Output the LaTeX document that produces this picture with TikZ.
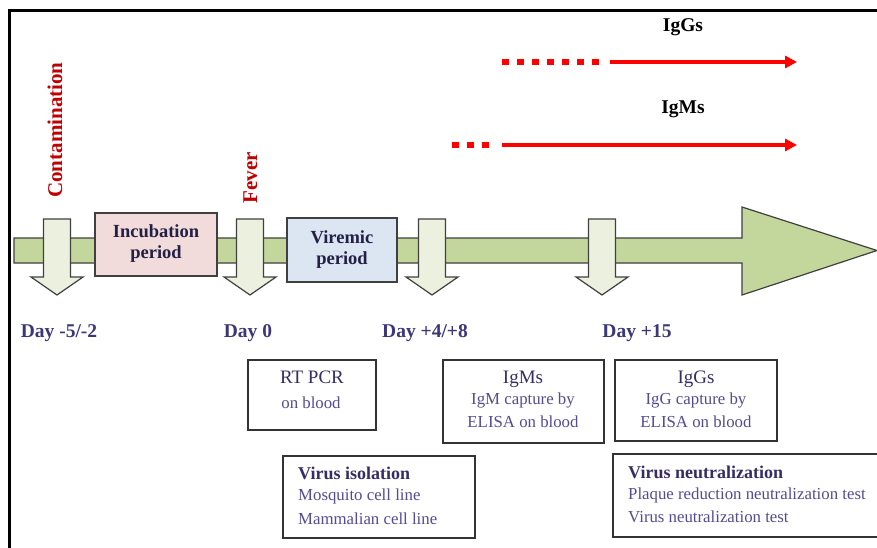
\documentclass[tikz,border=0pt]{standalone}
\usepackage{fontspec}
\setmainfont{Liberation Serif}
\usetikzlibrary{arrows.meta}

\definecolor{barfill}{RGB}{195,214,155}
\definecolor{tickfill}{RGB}{235,241,222}
\definecolor{edgegray}{RGB}{64,64,64}
\definecolor{incfill}{RGB}{242,220,219}
\definecolor{virfill}{RGB}{220,230,242}
\definecolor{eventred}{RGB}{192,0,0}
\definecolor{dayink}{RGB}{60,55,120}
\definecolor{headink}{RGB}{35,32,70}
\definecolor{titleink}{RGB}{55,45,100}
\definecolor{bodyink}{RGB}{85,75,145}

\tikzset{
  outline/.style={draw=edgegray, line width=1.2pt, line join=miter},
  dayarrow/.pic={
    \draw[outline, fill=tickfill] (-13.5,0) -- (13.5,0) -- (13.5,58) -- (26,58)
      -- (0,76) -- (-26,58) -- (-13.5,58) -- cycle;
  },
  phasebox/.style={outline, inner sep=0pt},
  testbox/.style={draw=black!80, line width=1.4pt, fill=white, inner sep=0pt},
  txt/.style={anchor=base, inner sep=0pt},
  eventlabel/.style={txt, rotate=90, text=eventred,
    font=\fontsize{21}{25}\selectfont\bfseries},
  daylabel/.style={txt, text=dayink, font=\fontsize{19.5}{24}\selectfont\bfseries},
  phasetext/.style={txt, text=headink, font=\fontsize{18.5}{22}\selectfont\bfseries},
  igtitle/.style={txt, text=black, font=\fontsize{19.5}{24}\selectfont\bfseries},
  boxtitle/.style={txt, text=titleink, font=\fontsize{19}{23}\selectfont},
  boxhead/.style={txt, text=titleink, font=\fontsize{18}{22}\selectfont\bfseries},
  boxline/.style={txt, text=bodyink, font=\fontsize{16.8}{20}\selectfont},
  dotrun/.style={red, line width=6.5pt, dash pattern=on 7pt off 8pt},
  solidrun/.style={red, line width=3.5pt, -{Triangle[length=12pt,width=12pt]}},
}

\begin{document}
\begin{tikzpicture}[x=1pt,y=-1pt]
\clip (0,0) rectangle (877,548);
\fill[white] (0,0) rectangle (877,548);

% frame (left and top edges)
\draw[line width=3pt, black] (9.5,548) -- (9.5,10.5) -- (877,10.5);

% time axis
\draw[outline, fill=barfill] (14,238) -- (742,238) -- (742,207) -- (877,250.5)
  -- (742,295) -- (742,263) -- (14,263) -- cycle;

% phases on the axis
\node[phasebox, fill=incfill, minimum width=122pt, minimum height=63pt] (incub) at (156,244.5) {};
\node[phasetext] (incubA) at (156,237) {Incubation};
\node[phasetext] (incubB) at (156,258) {period};

\node[phasebox, fill=virfill, minimum width=110pt, minimum height=64pt] (viremic) at (342,250) {};
\node[phasetext] (viremicA) at (342,243) {Viremic};
\node[phasetext] (viremicB) at (342,264) {period};

% day markers
\pic at (57,219) {dayarrow};
\pic at (250,219) {dayarrow};
\pic at (432,219) {dayarrow};
\pic at (602,219) {dayarrow};

\node[eventlabel] (contam) at (62,130) {Contamination};
\node[eventlabel] (fever) at (257,178) {Fever};

\node[daylabel] (dayA) at (59,337) {Day -5/-2};
\node[daylabel] (dayB) at (248,337) {Day 0};
\node[daylabel] (dayC) at (425,337) {Day +4/+8};
\node[daylabel] (dayD) at (637,337) {Day +15};

% antibody kinetics
\node[igtitle] (igg) at (683,32) {IgGs};
\node[igtitle] (igm) at (683,114) {IgMs};

\coordinate (gdotA) at (502,62);
\coordinate (gdotB) at (600,62);
\coordinate (gsolA) at (610,62);
\coordinate (gtip) at (797,62);
\coordinate (mdotA) at (452,145);
\coordinate (mdotB) at (490,145);
\coordinate (msolA) at (502,145);
\coordinate (mtip) at (797,145);

\draw[dotrun] (gdotA) -- (gdotB);
\draw[solidrun] (gsolA) -- (gtip);
\draw[dotrun] (mdotA) -- (mdotB);
\draw[solidrun] (msolA) -- (mtip);

% diagnostic tests
\node[testbox, minimum width=128pt, minimum height=70pt] (rtpcr) at (312,395) {};
\node[boxtitle] (rtpcrA) at (312,383) {RT PCR};
\node[boxline] (rtpcrB) at (311,408) {on blood};

\node[testbox, minimum width=192pt, minimum height=82pt] (isol) at (379,497) {};
\node[boxhead, anchor=base west] (isolA) at (298,479) {Virus isolation};
\node[boxline, anchor=base west] (isolB) at (298,500) {Mosquito cell line};
\node[boxline, anchor=base west] (isolC) at (298,524) {Mammalian cell line};

\node[testbox, minimum width=161pt, minimum height=83pt] (igmbox) at (523.5,401.5) {};
\node[boxtitle] (igmA) at (523,383) {IgMs};
\node[boxline] (igmB) at (523,404) {IgM capture by};
\node[boxline] (igmC) at (523,427) {ELISA on blood};

\node[testbox, minimum width=162pt, minimum height=81pt] (iggbox) at (696,400.5) {};
\node[boxtitle] (iggA) at (696,383) {IgGs};
\node[boxline] (iggB) at (696,404) {IgG capture by};
\node[boxline] (iggC) at (696,427) {ELISA on blood};

\node[testbox, minimum width=280pt, minimum height=83pt] (neutr) at (753,495.5) {};
\node[boxhead, anchor=base west] (neutrA) at (628,478) {Virus neutralization};
\node[boxline, anchor=base west] (neutrB) at (628,499) {Plaque reduction neutralization test};
\node[boxline, anchor=base west] (neutrC) at (628,522) {Virus neutralization test};
\end{tikzpicture}
\end{document}
